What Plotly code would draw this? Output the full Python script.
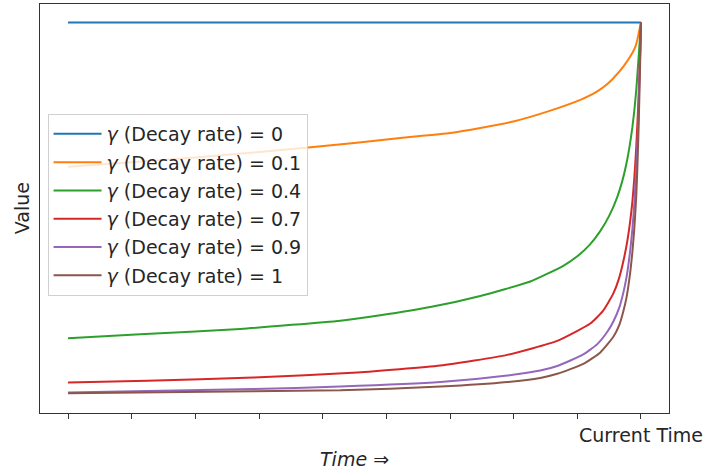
import plotly.graph_objects as go

# Time axis: 0 .. 9, the last tick is the current time
tick_vals = [0, 1, 2, 3, 4, 5, 6, 7, 8, 9]
tick_text = ["", "", "", "", "", "", "", "", "", "Current Time"]

gammas = ["0", "0.1", "0.4", "0.7", "0.9", "1"]
colors = ["#1f77b4", "#ff7f0e", "#2ca02c", "#d62728", "#9467bd", "#8c564b"]

t_g0 = [0, 1, 2, 3, 4, 5, 6, 7, 8, 9]
v_g0 = [1.0, 1.0, 1.0, 1.0, 1.0, 1.0, 1.0, 1.0, 1.0, 1.0]

t_g01 = [0, 0.99, 2.0, 3.005, 3.774, 4.497, 5.219, 6.005, 6.476, 6.994, 7.528, 8.047,
         8.314, 8.471, 8.566, 8.723, 8.864, 8.911, 8.942, 9.0]
v_g01 = [0.650, 0.661, 0.673, 0.686, 0.697, 0.708, 0.720, 0.732, 0.744, 0.760, 0.784, 0.8125,
         0.833, 0.851, 0.865, 0.893, 0.926, 0.941, 0.958, 1.0]

t_g04 = [0, 1.136, 2.706, 4.277, 4.905, 5.691, 6.476, 7.261, 7.780, 8.0, 8.2, 8.36, 8.5,
         8.63, 8.707, 8.770, 8.817, 8.864, 8.895, 8.926, 8.958, 9.0]
v_g04 = [0.234, 0.244, 0.257, 0.277, 0.290, 0.310, 0.337, 0.372, 0.410, 0.433, 0.462, 0.494, 0.531,
         0.578, 0.616, 0.657, 0.696, 0.745, 0.786, 0.837, 0.905, 1.0]

t_g07 = [0, 1.245, 2.911, 4.544, 5.848, 6.900, 7.685, 8.204, 8.4, 8.566, 8.65, 8.723,
         8.785, 8.832, 8.864, 8.895, 8.911, 8.926, 8.942, 8.958, 8.973, 8.985, 9.0]
v_g07 = [0.127, 0.131, 0.139, 0.151, 0.168, 0.194, 0.228, 0.270, 0.300, 0.343, 0.377, 0.421,
         0.470, 0.520, 0.564, 0.622, 0.660, 0.700, 0.750, 0.805, 0.865, 0.918, 1.0]

t_g09 = [0, 2.911, 4.277, 5.848, 6.900, 7.418, 7.685, 8.094, 8.314, 8.471, 8.566, 8.660,
         8.723, 8.770, 8.801, 8.832, 8.864, 8.895, 8.926, 8.942, 8.958, 8.973, 8.985, 9.0]
v_g09 = [0.103, 0.111, 0.117, 0.128, 0.144, 0.156, 0.167, 0.195, 0.220, 0.250, 0.275, 0.309,
         0.345, 0.380, 0.411, 0.449, 0.498, 0.560, 0.645, 0.697, 0.762, 0.850, 0.910, 1.0]

t_g1 = [0, 2.911, 4.277, 5.848, 6.900, 7.418, 7.685, 8.094, 8.361, 8.566, 8.660, 8.723,
        8.770, 8.801, 8.832, 8.864, 8.895, 8.926, 8.942, 8.958, 8.973, 8.985, 9.0]
v_g1 = [0.101, 0.106, 0.108, 0.117, 0.128, 0.138, 0.148, 0.172, 0.200, 0.238, 0.267, 0.300,
        0.331, 0.360, 0.395, 0.442, 0.500, 0.580, 0.643, 0.720, 0.810, 0.890, 1.0]

series = [(t_g0, v_g0), (t_g01, v_g01), (t_g04, v_g04), (t_g07, v_g07), (t_g09, v_g09), (t_g1, v_g1)]

FONT = "DejaVu Sans, Verdana, sans-serif"
TXT = "#262626"

fig = go.Figure()
for i, ((t, v), g, c) in enumerate(zip(series, gammas, colors)):
    fig.add_trace(go.Scatter(
        x=t, y=v, mode="lines",
        line=dict(color=c, width=2, shape="spline", smoothing=0.5),
        name=f"<i>γ</i> (Decay rate) = {g}",
        legendgroup=f"g{i}",
    ))

# tick marks on the axis; the labels are placed as annotations so the long
# last label may run past the right spine without being clipped
tick_labels = [
    dict(text=txt, x=val, xref="x", yref="paper", y=-0.054, showarrow=False,
         xanchor="center", yanchor="middle", font=dict(size=19, color=TXT))
    for val, txt in zip(tick_vals, tick_text) if txt
]

fig.update_layout(
    width=703, height=473,
    margin=dict(l=40, r=34, t=4, b=60),
    paper_bgcolor="white", plot_bgcolor="white",
    font=dict(family=FONT, size=19, color=TXT),
    showlegend=True,
    legend=dict(
        x=0.012, y=0.731, xanchor="left", yanchor="top",
        bgcolor="rgba(255,255,255,0.8)", bordercolor="#d0d0d0", borderwidth=1,
        font=dict(family=FONT, size=19, color=TXT),
        tracegroupgap=0.6, itemwidth=48,
    ),
    xaxis=dict(
        range=[-0.44, 9.44], tickmode="array", tickvals=tick_vals,
        ticktext=[""] * len(tick_vals),
        ticks="outside", ticklen=5, tickcolor="#333",
        showgrid=False, zeroline=False, showline=True, linecolor="#333", linewidth=1, mirror=True,
    ),
    yaxis=dict(
        range=[0.053, 1.045], showticklabels=False, ticks="",
        showgrid=False, zeroline=False, showline=True, linecolor="#333", linewidth=1, mirror=True,
    ),
    annotations=tick_labels + [
        dict(text="Value", xref="paper", yref="paper", x=-0.029, y=0.5, textangle=-90,
             showarrow=False, xanchor="center", yanchor="middle", font=dict(size=19, color=TXT)),
        dict(text="<i>Time</i> ⇒", xref="paper", yref="paper", x=0.5, y=-0.113,
             showarrow=False, xanchor="center", yanchor="middle", font=dict(size=19, color=TXT)),
    ],
)

fig.write_html("out.html")
